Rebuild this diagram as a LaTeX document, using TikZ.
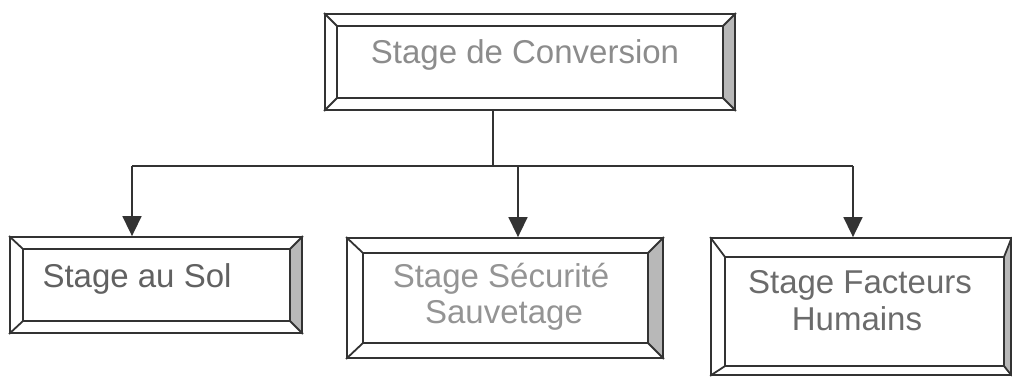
\documentclass[tikz,border=0pt]{standalone}
\usepackage{fontspec}
\setmainfont{Liberation Sans}
\usetikzlibrary{arrows.meta,fit}

\tikzset{
  bevel/.style={draw=black!80, line width=1.8pt, line join=miter},
  bevelshade/.style={fill=black!28},
  boxtext/.style={font=\fontsize{33}{38}\selectfont, inner sep=0pt, anchor=base},
  link/.style={draw=black!80, line width=1.6pt},
  tip/.style={-{Triangle[width=19pt,length=20pt]}}
}

% #1 name, #2-#5 outer corners (x1,y1,x2,y2), #6-#9 inner corners
\newcommand\bevelbox[9]{%
  \fill[bevelshade] (#4,#3) -- (#4,#5) -- (#8,#9) -- (#8,#7) -- cycle;
  \coordinate (#1-a) at (#2,#3);
  \coordinate (#1-b) at (#4,#5);
  \node[bevel, fit=(#1-a)(#1-b), inner sep=0pt] (#1) {};
  \draw[bevel] (#6,#7) rectangle (#8,#9);
  \draw[bevel] (#1.north west) -- (#6,#7);
  \draw[bevel] (#1.north east) -- (#8,#7);
  \draw[bevel] (#1.south west) -- (#6,#9);
  \draw[bevel] (#1.south east) -- (#8,#9);
}

\begin{document}
\begin{tikzpicture}[x=1pt,y=-1pt]
  \useasboundingbox (0,0) rectangle (1012,376);

  % frames
  \bevelbox{conv}{325}{14}{735}{110}{337}{26}{723}{98}
  \bevelbox{sol}{10}{237}{302}{333}{23}{249}{290}{321}
  \bevelbox{secu}{347}{238}{663}{358}{363}{253}{648}{343}
  \bevelbox{fact}{711}{238}{1011}{375}{725}{257}{1004}{366}

  % labels
  \node[boxtext, text=black!45] (convT) at (525,63) {Stage de Conversion};
  \node[boxtext, text=black!62] (solT) at (137,287) {Stage au Sol};
  \node[boxtext, text=black!42] (secuT1) at (501,287) {Stage Sécurité};
  \node[boxtext, text=black!42] (secuT2) at (504,323) {Sauvetage};
  \node[boxtext, text=black!58] (factT1) at (860,293) {Stage Facteurs};
  \node[boxtext, text=black!58] (factT2) at (857,330) {Humains};

  % connectors
  \coordinate (split) at (493,166);
  \coordinate (j1) at (132,166);
  \coordinate (j2) at (518,166);
  \coordinate (j3) at (853,166);
  \draw[link] (conv.south -| split) -- (split);
  \draw[link] (j1) -- (j3);
  \draw[link, tip] (j1) -- (j1 |- sol.north);
  \draw[link, tip] (j2) -- (j2 |- secu.north);
  \draw[link, tip] (j3) -- (j3 |- fact.north);
\end{tikzpicture}
\end{document}
